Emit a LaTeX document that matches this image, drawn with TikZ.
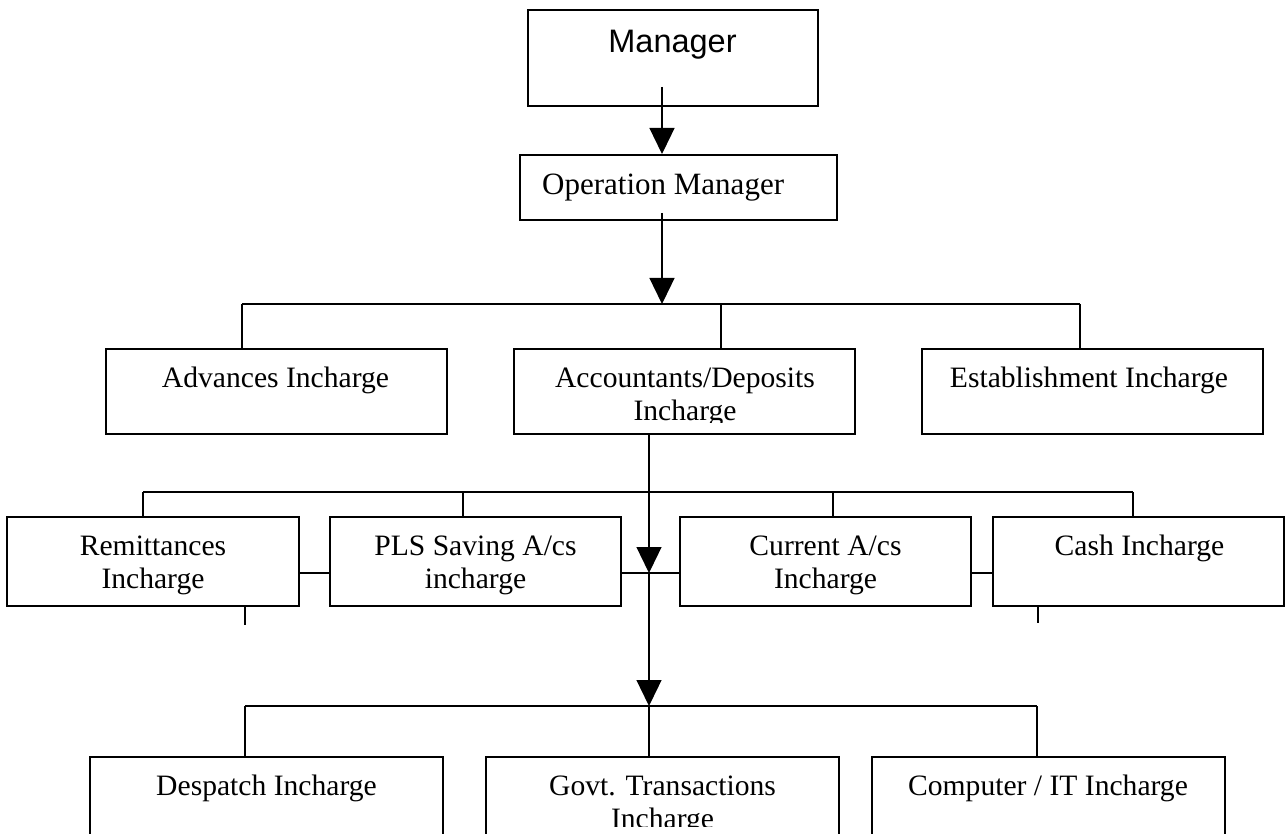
\documentclass[tikz,border=0pt]{standalone}
\usepackage{fontspec}
\setmainfont{Liberation Serif}
\newfontfamily\arialfont{Liberation Sans}
\usetikzlibrary{arrows.meta}
\begin{document}
\begin{tikzpicture}[x=1pt,y=-1pt,
  box/.style={draw, line width=2pt, rectangle, inner sep=0pt},
  conn/.style={line width=1.3pt},
  arr/.style={line width=1.3pt, -{Triangle[length=26pt,width=25pt]}},
  lbl/.style={anchor=base, inner sep=0pt, font={\fontsize{29.6}{33}\selectfont}},
]
\useasboundingbox (0,0) rectangle (1285,834);
\fill[white] (0,0) rectangle (1285,834);
\clip (0,0) rectangle (1285,834);

% boxes
\node[box, minimum width=290pt, minimum height=96pt] (mgr) at (673,58) {};
\node[box, minimum width=317pt, minimum height=65pt] (opm) at (678.5,187.5) {};
\node[box, minimum width=341pt, minimum height=85pt] (adv) at (276.5,391.5) {};
\node[box, minimum width=341pt, minimum height=85pt] (acc) at (684.5,391.5) {};
\node[box, minimum width=341pt, minimum height=85pt] (est) at (1092.5,391.5) {};
\node[box, minimum width=292pt, minimum height=89pt] (rem) at (153,561.5) {};
\node[box, minimum width=291pt, minimum height=89pt] (pls) at (475.5,561.5) {};
\node[box, minimum width=291pt, minimum height=89pt] (cur) at (825.5,561.5) {};
\node[box, minimum width=291pt, minimum height=89pt] (cash) at (1138.5,561.5) {};
\node[box, minimum width=353pt, minimum height=113pt] (des) at (266.5,813.5) {};
\node[box, minimum width=353pt, minimum height=113pt] (gov) at (662.5,813.5) {};
\node[box, minimum width=353pt, minimum height=113pt] (com) at (1048.5,813.5) {};

% labels
\node[lbl, font={\arialfont\fontsize{32.5}{36}\selectfont}] (tmgr) at (672.5,53) {Manager};
\node[lbl, anchor=base west, font={\fontsize{31}{35}\selectfont}] (topm) at (542,195) {Operation Manager};
\node[lbl] (tadv) at (275.5,387) {Advances Incharge};
\begin{scope}
\clip (514,349) rectangle (855,422);
\node[lbl] (tacc) at (685,387) {\begin{tabular}[t]{@{}c@{}}Accountants/Deposits\\Incharge\end{tabular}};
\end{scope}
\node[lbl] (test) at (1089,387) {Establishment Incharge};
\node[lbl] (trem) at (153,555) {\begin{tabular}[t]{@{}c@{}}Remittances\\Incharge\end{tabular}};
\node[lbl] (tpls) at (475.5,555) {\begin{tabular}[t]{@{}c@{}}PLS Saving A/cs\\incharge\end{tabular}};
\node[lbl] (tcur) at (825.5,555) {\begin{tabular}[t]{@{}c@{}}Current A/cs\\Incharge\end{tabular}};
\node[lbl] (tcash) at (1139.5,555) {Cash Incharge};
\node[lbl] (tdes) at (266.5,795) {Despatch Incharge};
\begin{scope}
\clip (486,757) rectangle (839,826);
\node[lbl] (tgov) at (662.5,795) {\begin{tabular}[t]{@{}c@{}}Govt. Transactions\\Incharge\end{tabular}};
\end{scope}
\node[lbl] (tcom) at (1048,795) {Computer / IT Incharge};

% top arrows
\coordinate (m1) at (662,87);
\draw[arr] (m1) -- (m1 |- opm.north);
\coordinate (o1) at (662,213);
\coordinate (h2) at (662,304);
\draw[arr] (o1) -- (h2);

% level 2 branch
\coordinate (h2L) at (242,304);
\coordinate (h2M) at (721,304);
\coordinate (h2R) at (1080,304);
\draw[conn] (h2L) -- (h2R);
\draw[conn] (h2L) -- (h2L |- adv.north);
\draw[conn] (h2M) -- (h2M |- acc.north);
\draw[conn] (h2R) -- (h2R |- est.north);

% central arrows
\coordinate (mid) at (649,573);
\coordinate (h4) at (649,706);
\draw[arr] (mid |- acc.south) -- (mid);
\draw[arr] (mid) -- (h4);

% level 3 branch
\coordinate (h3a) at (143,492);
\coordinate (h3b) at (463,492);
\coordinate (h3c) at (833,492);
\coordinate (h3d) at (1133,492);
\draw[conn] (h3a) -- (h3d);
\draw[conn] (h3a) -- (h3a |- rem.north);
\draw[conn] (h3b) -- (h3b |- pls.north);
\draw[conn] (h3c) -- (h3c |- cur.north);
\draw[conn] (h3d) -- (h3d |- cash.north);
\draw[conn] (rem.east |- mid) -- (pls.west |- mid);
\draw[conn] (pls.east |- mid) -- (cur.west |- mid);
\draw[conn] (cur.east |- mid) -- (cash.west |- mid);

% stubs
\coordinate (s1) at (245,625);
\coordinate (s2) at (1038,623);
\draw[conn] (s1 |- rem.south) -- (s1);
\draw[conn] (s2 |- cash.south) -- (s2);

% level 4 branch
\coordinate (h4L) at (245,706);
\coordinate (h4R) at (1037,706);
\draw[conn] (h4L) -- (h4R);
\draw[conn] (h4L) -- (h4L |- des.north);
\draw[conn] (h4) -- (h4 |- gov.north);
\draw[conn] (h4R) -- (h4R |- com.north);
\end{tikzpicture}
\end{document}
